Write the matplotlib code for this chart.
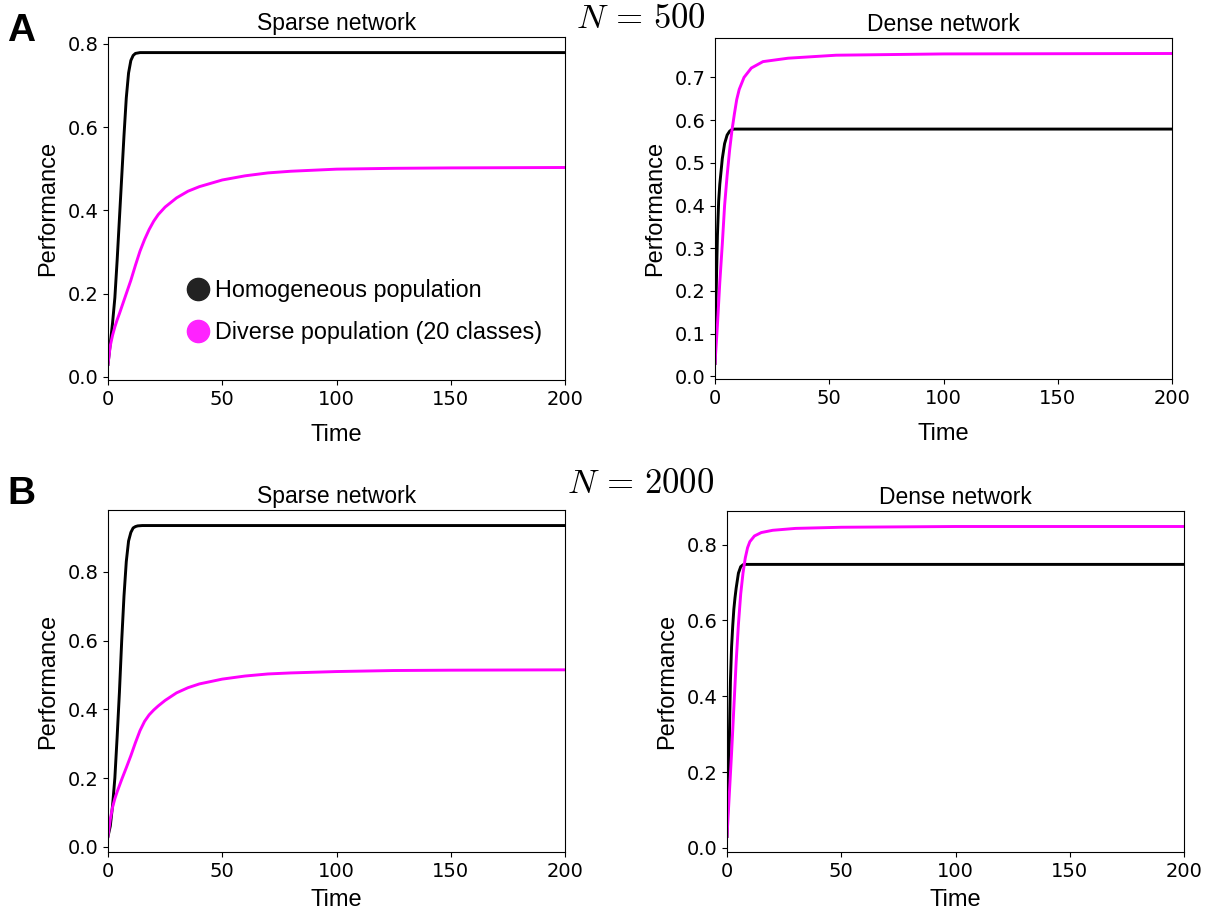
import matplotlib
matplotlib.use('Agg')
import matplotlib.pyplot as plt
from matplotlib.lines import Line2D

plt.rcParams['mathtext.fontset'] = 'cm'

HELV = 'Liberation Sans'
BLACK = 'black'
MAGENTA = '#ff00ff'

# ---------------- data ---------------- #
# N = 500, sparse network
t_a_sparse_hom = [0, 1, 2, 3, 4, 5, 6, 7, 8, 9, 10, 11, 12, 13, 14, 16, 200]
v_a_sparse_hom = [0.03, 0.08, 0.13, 0.19, 0.28, 0.38, 0.48, 0.58, 0.67, 0.73, 0.76,
                  0.772, 0.777, 0.778, 0.779, 0.779, 0.779]
t_a_sparse_div = [0, 1, 2, 3, 4, 5, 6, 8, 10, 12, 14, 16, 18, 20, 22, 25, 30, 35, 40,
                  50, 60, 70, 80, 100, 125, 150, 200]
v_a_sparse_div = [0.03, 0.075, 0.1, 0.12, 0.137, 0.152, 0.168, 0.2, 0.232, 0.268, 0.302,
                  0.33, 0.354, 0.374, 0.39, 0.408, 0.43, 0.446, 0.457, 0.473, 0.483,
                  0.49, 0.494, 0.499, 0.501, 0.502, 0.503]

# N = 500, dense network
t_a_dense_hom = [0, 0.53, 1.06, 1.6, 2.1, 3.2, 4.2, 5.3, 6.4, 7.4, 8.5, 9.5, 200]
v_a_dense_hom = [0.03, 0.2, 0.33, 0.41, 0.45, 0.51, 0.545, 0.565, 0.574, 0.578, 0.579,
                 0.579, 0.579]
t_a_dense_div = [0, 1.06, 2.1, 3.2, 4.2, 5.3, 6.4, 7.4, 8.5, 9.5, 10.6, 12.7, 15.9, 21,
                 32, 53, 100, 200]
v_a_dense_div = [0.03, 0.12, 0.22, 0.31, 0.4, 0.47, 0.53, 0.575, 0.615, 0.648, 0.672,
                 0.7, 0.722, 0.737, 0.745, 0.752, 0.755, 0.756]

# N = 2000, sparse network
t_b_sparse_hom = [0, 1, 2, 3, 4, 5, 6, 7, 8, 9, 10, 11, 12, 13, 15, 200]
v_b_sparse_hom = [0.03, 0.06, 0.12, 0.2, 0.32, 0.45, 0.6, 0.73, 0.83, 0.89, 0.915,
                  0.928, 0.932, 0.934, 0.935, 0.935]
t_b_sparse_div = [0, 1, 2, 3, 4, 5, 6, 8, 10, 12, 14, 16, 18, 20, 22, 25, 30, 35, 40,
                  50, 60, 70, 80, 100, 125, 150, 200]
v_b_sparse_div = [0.03, 0.08, 0.115, 0.14, 0.16, 0.178, 0.196, 0.23, 0.265, 0.303,
                  0.338, 0.365, 0.384, 0.398, 0.41, 0.426, 0.448, 0.463, 0.474, 0.488,
                  0.497, 0.503, 0.506, 0.51, 0.513, 0.514, 0.515]

# N = 2000, dense network
t_b_dense_hom = [0, 0.5, 1, 1.5, 2, 2.5, 3, 3.5, 4, 5, 6, 7, 8, 200]
v_b_dense_hom = [0.03, 0.15, 0.28, 0.44, 0.53, 0.585, 0.63, 0.66, 0.685, 0.725, 0.742,
                 0.747, 0.748, 0.748]
t_b_dense_div = [0, 1, 2, 3, 4, 5, 6, 7, 8, 9, 10, 12, 15, 20, 30, 50, 100, 200]
v_b_dense_div = [0.03, 0.14, 0.25, 0.37, 0.49, 0.59, 0.67, 0.725, 0.765, 0.792, 0.808,
                 0.823, 0.832, 0.838, 0.843, 0.846, 0.848, 0.848]

x_ticks = [0, 50, 100, 150, 200]
y_ticks_fine = [0.0, 0.1, 0.2, 0.3, 0.4, 0.5, 0.6, 0.7]
y_ticks_coarse = [0.0, 0.2, 0.4, 0.6, 0.8]

legend_labels = ['Homogeneous population', 'Diverse population (20 classes)']

# ---------------- figure ---------------- #
fig = plt.figure(figsize=(12.11, 9.14), dpi=100)

W, H = 1211, 914
def box(l, r, t, b):
    return [l / W, 1 - b / H, (r - l) / W, (b - t) / H]

ax1 = fig.add_axes(box(108, 565, 37, 380))
ax2 = fig.add_axes(box(715, 1172, 38, 379))
ax3 = fig.add_axes(box(108, 565, 510, 852))
ax4 = fig.add_axes(box(727, 1184, 511, 852))

panels = [
    (ax1, t_a_sparse_hom, v_a_sparse_hom, t_a_sparse_div, v_a_sparse_div, 'Sparse network', y_ticks_coarse),
    (ax2, t_a_dense_hom, v_a_dense_hom, t_a_dense_div, v_a_dense_div, 'Dense network', y_ticks_fine),
    (ax3, t_b_sparse_hom, v_b_sparse_hom, t_b_sparse_div, v_b_sparse_div, 'Sparse network', y_ticks_coarse),
    (ax4, t_b_dense_hom, v_b_dense_hom, t_b_dense_div, v_b_dense_div, 'Dense network', y_ticks_coarse),
]

for ax, th, vh, td, vd, title, yt in panels:
    ax.plot(th, vh, color=BLACK, linewidth=2.1)
    ax.plot(td, vd, color=MAGENTA, linewidth=2.1)
    ax.set_xlim(0, 200)
    ax.set_xticks(x_ticks)
    ax.set_yticks(yt)
    ax.set_title(title, fontsize=16.5, family=HELV, pad=5)
    ax.set_xlabel('Time', fontsize=17, family=HELV, labelpad=11)
    ax.set_ylabel('Performance', fontsize=17, family=HELV, labelpad=6)
    ax.tick_params(labelsize=14)

ax3.xaxis.labelpad = 6
ax4.xaxis.labelpad = 6

handles = [Line2D([], [], linestyle='none', marker='o', markersize=16,
                  color='#222222'),
           Line2D([], [], linestyle='none', marker='o', markersize=16,
                  color='#ff22ff')]
ax1.legend(handles, legend_labels, loc='center left', bbox_to_anchor=(0.12, 0.20),
           frameon=False, prop={'family': HELV, 'size': 16.8}, handletextpad=0.15,
           labelspacing=0.8, handlelength=1.2)

fig.text(0.006, 0.966, 'A', fontsize=28, fontweight='bold', family=HELV, va='center')
fig.text(0.006, 0.460, 'B', fontsize=28, fontweight='bold', family=HELV, va='center')
fig.text(641 / W, 1 - 18 / H, r'$N\,=\,500$', fontsize=25, ha='center', va='center')
fig.text(641 / W, 1 - 483 / H, r'$N\,=\,2000$', fontsize=25, ha='center', va='center')

fig.savefig('out.png', dpi=100)
